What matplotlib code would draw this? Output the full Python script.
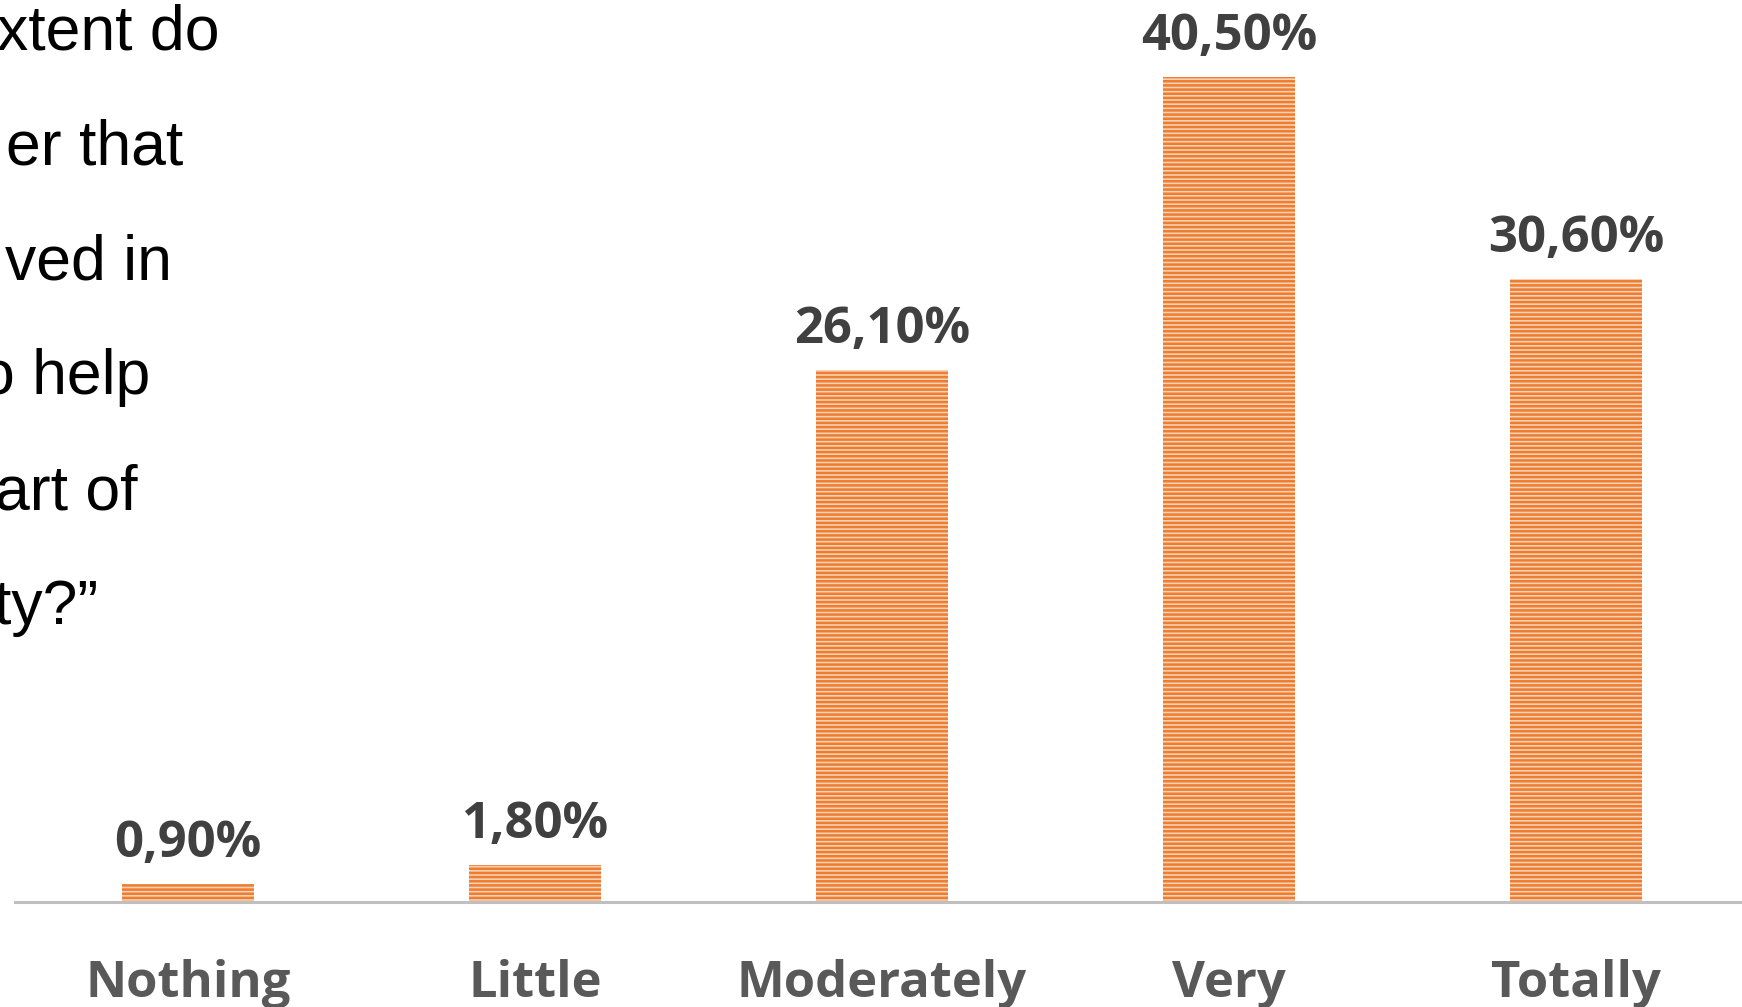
import matplotlib
matplotlib.use("Agg")
import matplotlib.pyplot as plt
import numpy as np

# Survey answers and their shares (%)
categories = ["Nothing", "Little", "Moderately", "Very", "Totally"]
shares = [0.90, 1.80, 26.10, 40.50, 30.60]
share_labels = ["0,90%", "1,80%", "26,10%", "40,50%", "30,60%"]

# Question text fragments shown at the left edge (right-aligned ends, px)
question_lines = ["xtent do", "er that", "ved in", "o help", "art of", "ty?\u201d"]
question_right_px = [219, 183, 172, 150, 137, 98]

W, H, DPI = 1742, 1007, 100
fig = plt.figure(figsize=(W / DPI, H / DPI), dpi=DPI)
fig.patch.set_facecolor("white")

plt.rcParams["hatch.linewidth"] = 1.8

axis_px = 902          # baseline of the bars, px from top
px_per_unit = 20.37    # px per percentage point
slot_px = 347          # distance between categories
left_px = 14.5

ax_h = axis_px / H
ax = fig.add_axes([left_px / W, 1 - axis_px / H, 5 * slot_px / W, ax_h])
ax.set_xlim(-0.5, 4.5)
ax.set_ylim(0, axis_px / px_per_unit)

x = np.arange(len(categories))
bars = ax.bar(x, shares, width=0.378, color="#F9D0B1", edgecolor="#ED7D31",
              linewidth=0, hatch="----", zorder=2)

for xi, v, lab in zip(x, shares, share_labels):
    ax.annotate(lab, (xi, v), xytext=(0, 19.5), textcoords="offset points",
                ha="center", va="baseline", fontsize=36.5, fontweight="bold",
                family="Open Sans", color="#404040", clip_on=False)

for s in ["top", "right", "left"]:
    ax.spines[s].set_visible(False)
ax.spines["bottom"].set_color("#BFBFBF")
ax.spines["bottom"].set_linewidth(2.2)
ax.spines["bottom"].set_zorder(3)
ax.set_yticks([])
ax.set_xticks(x, categories)
ax.tick_params(axis="x", length=0, pad=95 * 72 / DPI)
for lbl in ax.get_xticklabels():
    lbl.set_verticalalignment("baseline")
    lbl.set_fontsize(36.5)
    lbl.set_fontweight("bold")
    lbl.set_family("Open Sans")
    lbl.set_color("#595959")
ax.patch.set_alpha(0)

# Question text on the left
baseline0 = 50
line_step = 114.8
for i, (txt, xr) in enumerate(zip(question_lines, question_right_px)):
    yb = baseline0 + i * line_step
    fig.text(xr / W, 1 - yb / H, txt, ha="right", va="baseline",
             fontsize=45, family="Liberation Sans", color="black")

fig.savefig("out.png", dpi=DPI, facecolor="white")
